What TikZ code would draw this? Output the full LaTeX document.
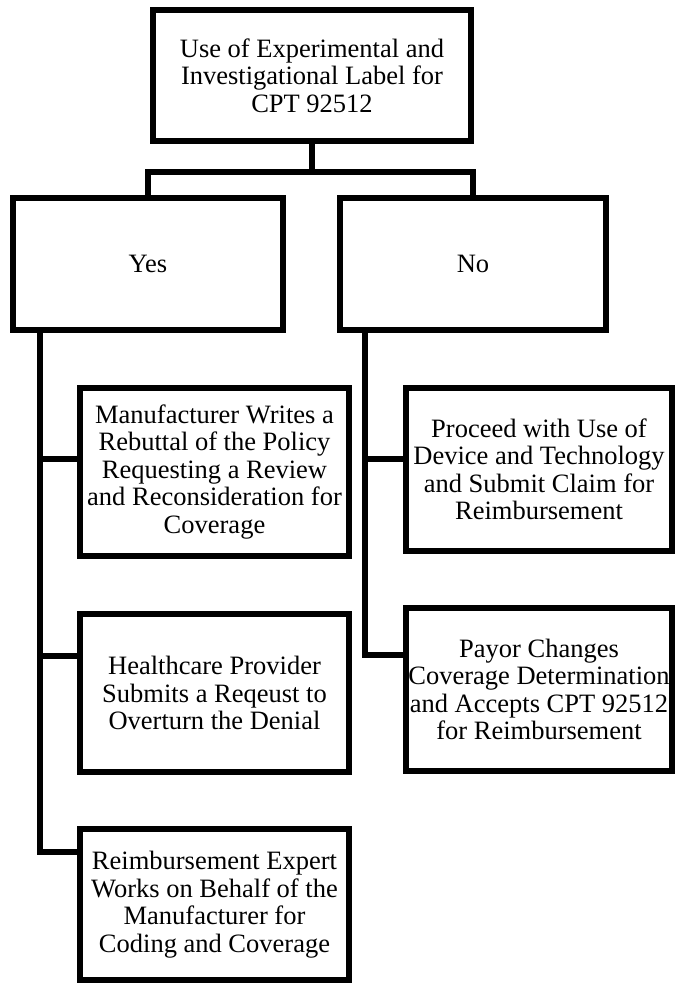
\documentclass[tikz,border=0pt]{standalone}
\usepackage{fontspec}
\setmainfont{Liberation Serif}
\begin{document}
\begin{tikzpicture}[x=1pt,y=-1pt,
  box/.style={draw, line width=6pt, inner sep=0pt, outer sep=0pt, align=center,
    font=\fontsize{26.5}{27.5}\selectfont},
  link/.style={line width=6pt, line join=miter}]
\useasboundingbox (0,0) rectangle (675,983);

% decision and answers
\node[box, minimum width=318pt, minimum height=131pt] (top) at (312,75.5)
  {Use of Experimental and\\Investigational Label for\\CPT 92512};
\node[box, minimum width=270pt, minimum height=132pt] (yes) at (148,264) {Yes};
\node[box, minimum width=266pt, minimum height=132pt] (no) at (473,264) {No};

% actions after "Yes"
\node[box, minimum width=269pt, minimum height=168pt] (y1) at (214.5,472)
  {Manufacturer Writes a\\Rebuttal of the Policy\\Requesting a Review\\and Reconsideration for\\Coverage};
\node[box, minimum width=269pt, minimum height=158pt] (y2) at (214.5,693)
  {Healthcare Provider\\Submits a Reqeust to\\Overturn the Denial};
\node[box, minimum width=269pt, minimum height=151pt] (y3) at (214.5,904.5)
  {Reimbursement Expert\\Works on Behalf of the\\Manufacturer for\\Coding and Coverage};

% actions after "No"
\node[box, minimum width=266pt, minimum height=163pt] (n1) at (539,469.5)
  {Proceed with Use of\\Device and Technology\\and Submit Claim for\\Reimbursement};
\node[box, minimum width=266pt, minimum height=163pt] (n2) at (539,689.5)
  {Payor Changes\\Coverage Determination\\and Accepts CPT 92512\\for Reimbursement};

% connector levels
\coordinate (split) at (312,171.5);
\coordinate (ytrunk) at (39.5,0);
\coordinate (ntrunk) at (365,0);
\coordinate (b1) at (0,459);
\coordinate (b2) at (0,656);
\coordinate (b3) at (0,852);
\coordinate (c1) at (0,459);
\coordinate (c2) at (0,655);

% split below the decision
\draw[link] (top.south) -- (split);
\draw[link] (yes.north) -- (yes.north |- split) -- (no.north |- split) -- (no.north);

% "Yes" trunk
\draw[link] (yes.south -| ytrunk) |- (y3.west |- b3);
\draw[link] (ytrunk |- b1) -- (y1.west |- b1);
\draw[link] (ytrunk |- b2) -- (y2.west |- b2);

% "No" trunk
\draw[link] (no.south -| ntrunk) |- (n2.west |- c2);
\draw[link] (ntrunk |- c1) -- (n1.west |- c1);
\end{tikzpicture}
\end{document}
